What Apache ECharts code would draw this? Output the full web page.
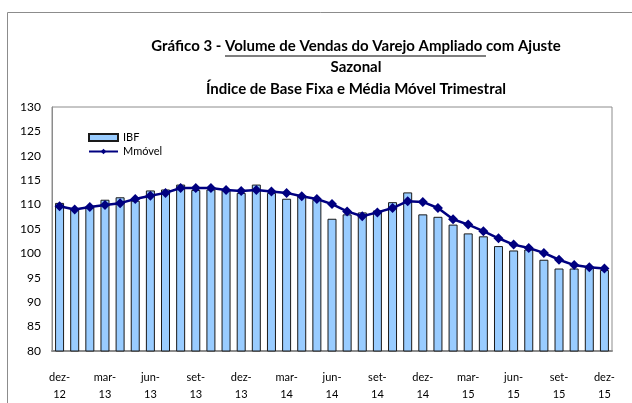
<!DOCTYPE html>
<html>
<head>
<meta charset="utf-8">
<script src="https://cdn.jsdelivr.net/npm/echarts@6/dist/echarts.min.js"></script>
<style>
html,body{margin:0;padding:0;background:#fff;}
#chart{width:632px;height:403px;}
</style>
</head>
<body>
<div id="chart"></div>
<script>
var categories = ["dez-12","jan-13","fev-13","mar-13","abr-13","mai-13","jun-13","jul-13","ago-13","set-13","out-13","nov-13",
  "dez-13","jan-14","fev-14","mar-14","abr-14","mai-14","jun-14","jul-14","ago-14","set-14","out-14","nov-14",
  "dez-14","jan-15","fev-15","mar-15","abr-15","mai-15","jun-15","jul-15","ago-15","set-15","out-15","nov-15","dez-15"];
var ibf = [110.35,109.3,109.4,111.0,111.5,110.8,112.9,113.1,114.1,113.0,113.1,112.9,
  112.4,114.1,112.4,111.2,111.7,111.0,107.1,108.0,108.4,108.8,110.5,112.5,
  108.0,107.5,105.9,104.1,103.5,101.5,100.6,100.8,98.7,96.9,96.9,97.0,96.6];
var mmovel = [109.65,109.0,109.5,109.9,110.3,111.15,111.8,112.4,113.4,113.4,113.4,113.0,
  112.8,113.0,112.7,112.4,111.7,111.15,110.1,108.6,107.6,108.4,109.3,110.7,
  110.55,109.3,107.0,105.9,104.55,103.1,101.8,101.1,100.1,98.7,97.6,97.15,96.9];
var titleLines = ["Gráfico 3 - Volume de Vendas do Varejo Ampliado com Ajuste","Sazonal","Índice de Base Fixa e Média Móvel Trimestral"];
var underlinePart = ["Gráfico 3 - ","Volume de Vendas do Varejo Ampliado "];

var FONT = 'Lato, "Open Sans", sans-serif';
var titleFont = 'bold 15px ' + FONT;
var cx = 356;
var mc = document.createElement('canvas').getContext('2d');
mc.font = titleFont;
var w1 = mc.measureText(titleLines[0]).width;
var wPre = mc.measureText(underlinePart[0]).width;
var wU = mc.measureText(underlinePart[1]).width;
var ux0 = cx - w1/2 + wPre;

var chart = echarts.init(document.getElementById('chart'));
chart.setOption({
  animation:false,
  backgroundColor:'#fff',
  graphic:[
    {type:'rect',shape:{x:7.5,y:12.5,width:700,height:500},style:{fill:'none',stroke:'#8c8c8c',lineWidth:1},silent:true},
    {type:'text',x:cx,y:46,style:{text:titleLines[0],font:titleFont,fill:'#000',textAlign:'center',textVerticalAlign:'middle'}},
    {type:'text',x:cx,y:67,style:{text:titleLines[1],font:titleFont,fill:'#000',textAlign:'center',textVerticalAlign:'middle'}},
    {type:'text',x:cx,y:89,style:{text:titleLines[2],font:titleFont,fill:'#000',textAlign:'center',textVerticalAlign:'middle'}},
    {type:'line',shape:{x1:ux0,y1:56,x2:ux0+wU,y2:56},style:{stroke:'#000',lineWidth:1.2}}
  ],
  legend:{
    left:83, top:127, orient:'vertical', itemWidth:29, itemHeight:7, itemGap:3,
    textStyle:{fontFamily:FONT,fontSize:11,color:'#000'},
    data:[{name:'IBF',icon:'rect'},{name:'Mmóvel'}]
  },
  grid:{left:52,right:20,top:107,bottom:51,show:true,borderColor:'#8c8c8c',borderWidth:1},
  xAxis:{
    type:'category', data:categories,
    axisLine:{lineStyle:{color:'#8c8c8c',width:2}},
    axisTick:{show:false},
    axisLabel:{interval:2,margin:18,fontFamily:FONT,fontSize:11,color:'#000',lineHeight:17,
      formatter:function(v){return v.replace('-','-\n');}}
  },
  yAxis:{
    type:'value', min:80, max:130, interval:5,
    axisLine:{show:true,lineStyle:{color:'#8c8c8c'}},
    axisTick:{show:false},
    splitLine:{show:false},
    axisLabel:{margin:11,fontFamily:FONT,fontSize:12,color:'#000'}
  },
  series:[
    {name:'IBF',type:'bar',data:ibf,barWidth:9,
      itemStyle:{color:'#99ccff',borderColor:'#1a1a1a',borderWidth:1}},
    {name:'Mmóvel',type:'line',data:mmovel,symbol:'diamond',symbolSize:10,
      lineStyle:{color:'#000080',width:2.5},itemStyle:{color:'#000080'}}
  ]
});
</script>
</body>
</html>
